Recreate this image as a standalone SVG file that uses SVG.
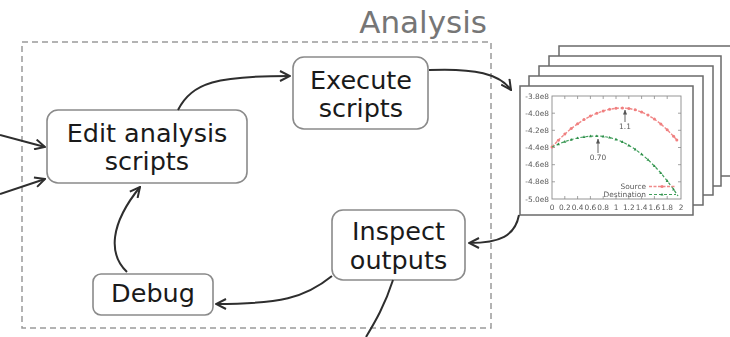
<svg xmlns="http://www.w3.org/2000/svg" width="730" height="337" viewBox="0 0 730 337">
  <style>
    .node rect { fill: #fff; stroke: #8a8a8a; stroke-width: 1.6; }
    .node text { font-family: "DejaVu Sans", Verdana, sans-serif; font-size: 25.5px; fill: #1a1a1a; text-anchor: middle; }
    .edge { fill: none; stroke: #2e2e2e; stroke-width: 2; marker-end: url(#arrow); }
    .frame { fill: #fff; stroke: #6a6a6a; stroke-width: 1.5; }
    .axis { fill: none; stroke: #8a8a8a; stroke-width: 0.9; }
    .tick { stroke: #8a8a8a; stroke-width: 0.8; }
    .lbl { font-family: "DejaVu Sans", Verdana, sans-serif; font-size: 7.4px; fill: #5a5a5a; }
    .src { fill: none; stroke: #f08a8a; stroke-width: 1.4; stroke-dasharray: 3 1.5; }
    .dst { fill: none; stroke: #3f9f5a; stroke-width: 1.2; stroke-dasharray: 3 2; }
  </style>
  <defs>
    <marker id="arrow" viewBox="0 0 12 12" refX="11" refY="6" markerWidth="12" markerHeight="12" markerUnits="userSpaceOnUse" orient="auto">
      <path d="M1,1 L11,6 L1,11" fill="none" stroke="#2e2e2e" stroke-width="2" stroke-linejoin="miter"/>
    </marker>
    <marker id="small" viewBox="0 0 6 6" refX="5.5" refY="3" markerWidth="5" markerHeight="5" markerUnits="userSpaceOnUse" orient="auto">
      <path d="M0,0.5 L6,3 L0,5.5 Z" fill="#555"/>
    </marker>
    <circle id="dotR" r="1.5" fill="#f07f7f"/>
    <path id="triG" d="M0,-1.6 L1.5,1.1 L-1.5,1.1 Z" fill="#2f8f4a"/>
    <filter id="soft" x="-5%" y="-5%" width="110%" height="110%">
      <feGaussianBlur stdDeviation="0.45"/>
    </filter>
  </defs>

  <!-- analysis boundary -->
  <rect x="22" y="42" width="469" height="286" fill="none" stroke="#9a9a9a" stroke-width="1.5" stroke-dasharray="6 4"/>
  <text x="487" y="33" font-family="DejaVu Sans, Verdana, sans-serif" font-size="31" fill="#767676" text-anchor="end">Analysis</text>

  <!-- stack of output plots -->
  <g id="outputs">
    <rect class="frame" x="559" y="46" width="180" height="130"/>
    <rect class="frame" x="549" y="56" width="172" height="130"/>
    <rect class="frame" x="539" y="66" width="174" height="129"/>
    <rect class="frame" x="529" y="76" width="174" height="129"/>
    <rect class="frame" x="520" y="86" width="173" height="129"/>
    <g filter="url(#soft)">
      <rect class="axis" x="552" y="96" width="129" height="103"/>
      <!-- ticks -->
      <g class="tick">
        <path d="M564.8,96v3M577.6,96v3M590.4,96v3M603.2,96v3M616,96v3M628.8,96v3M641.6,96v3M654.4,96v3M667.2,96v3
                 M564.8,199v-3M577.6,199v-3M590.4,199v-3M603.2,199v-3M616,199v-3M628.8,199v-3M641.6,199v-3M654.4,199v-3M667.2,199v-3
                 M552,113.2h3M552,130.3h3M552,147.5h3M552,164.7h3M552,181.8h3
                 M681,113.2h-3M681,130.3h-3M681,147.5h-3M681,164.7h-3M681,181.8h-3"/>
      </g>
      <!-- y labels -->
      <g class="lbl" text-anchor="end">
        <text x="549" y="98.5">-3.8e8</text>
        <text x="549" y="115.7">-4.0e8</text>
        <text x="549" y="132.8">-4.2e8</text>
        <text x="549" y="150">-4.4e8</text>
        <text x="549" y="167.2">-4.6e8</text>
        <text x="549" y="184.3">-4.8e8</text>
        <text x="549" y="201.5">-5.0e8</text>
      </g>
      <!-- x labels -->
      <g class="lbl" text-anchor="middle">
        <text x="552" y="210">0</text>
        <text x="564.8" y="210">0.2</text>
        <text x="577.6" y="210">0.4</text>
        <text x="590.4" y="210">0.6</text>
        <text x="603.2" y="210">0.8</text>
        <text x="616" y="210">1</text>
        <text x="628.8" y="210">1.2</text>
        <text x="641.6" y="210">1.4</text>
        <text x="654.4" y="210">1.6</text>
        <text x="667.2" y="210">1.8</text>
        <text x="681" y="210">2</text>
      </g>
      <!-- source curve -->
      <path class="src" d="M552,147 L558.4,140.2 L564.8,134.1 L571.2,128.6 L577.6,123.8 L584,119.6 L590.4,116.1 L596.8,113.2 L603.2,110.9 L609.6,109.3 L616,108.3 L622.4,108 L628.8,108.4 L635.2,109.8 L641.6,112 L648,115.1 L654.4,119.1 L660.8,123.9 L667.2,129.7 L673.6,136.3 L676.8,140"/>
      <g>
        <use href="#dotR" x="552" y="147"/><use href="#dotR" x="558.4" y="140.2"/><use href="#dotR" x="564.8" y="134.1"/>
        <use href="#dotR" x="571.2" y="128.6"/><use href="#dotR" x="577.6" y="123.8"/><use href="#dotR" x="584" y="119.6"/>
        <use href="#dotR" x="590.4" y="116.1"/><use href="#dotR" x="596.8" y="113.2"/><use href="#dotR" x="603.2" y="110.9"/>
        <use href="#dotR" x="609.6" y="109.3"/><use href="#dotR" x="616" y="108.3"/><use href="#dotR" x="622.4" y="108"/>
        <use href="#dotR" x="628.8" y="108.4"/><use href="#dotR" x="635.2" y="109.8"/><use href="#dotR" x="641.6" y="112"/>
        <use href="#dotR" x="648" y="115.1"/><use href="#dotR" x="654.4" y="119.1"/><use href="#dotR" x="660.8" y="123.9"/>
        <use href="#dotR" x="667.2" y="129.7"/><use href="#dotR" x="673.6" y="136.3"/><use href="#dotR" x="676.8" y="140"/>
      </g>
      <!-- destination curve -->
      <path class="dst" d="M552,147 L558.4,144.1 L564.8,141.6 L571.2,139.6 L577.6,138 L584,136.9 L590.4,136.2 L596.8,136 L603.2,136.4 L609.6,137.5 L616,139.3 L622.4,141.9 L628.8,145.3 L635.2,149.3 L641.6,154.1 L648,159.7 L654.4,166 L660.8,173 L667.2,180.8 L673.6,189.3 L678,196"/>
      <g>
        <use href="#triG" x="558.4" y="144.1"/><use href="#triG" x="564.8" y="141.6"/><use href="#triG" x="571.2" y="139.6"/>
        <use href="#triG" x="577.6" y="138"/><use href="#triG" x="584" y="136.9"/><use href="#triG" x="590.4" y="136.2"/>
        <use href="#triG" x="596.8" y="136"/><use href="#triG" x="603.2" y="136.4"/><use href="#triG" x="609.6" y="137.5"/>
        <use href="#triG" x="616" y="139.3"/><use href="#triG" x="622.4" y="141.9"/><use href="#triG" x="628.8" y="145.3"/>
        <use href="#triG" x="635.2" y="149.3"/><use href="#triG" x="641.6" y="154.1"/><use href="#triG" x="648" y="159.7"/>
        <use href="#triG" x="654.4" y="166"/><use href="#triG" x="660.8" y="173"/><use href="#triG" x="667.2" y="180.8"/>
        <use href="#triG" x="673.6" y="189.3"/>
      </g>
      <!-- peak annotations -->
      <path d="M625,122 V110" stroke="#555" stroke-width="0.9" marker-end="url(#small)"/>
      <text class="lbl" x="625" y="129" text-anchor="middle">1.1</text>
      <path d="M598,153 V139" stroke="#555" stroke-width="0.9" marker-end="url(#small)"/>
      <text class="lbl" x="598" y="160" text-anchor="middle">0.70</text>
      <!-- legend -->
      <text class="lbl" x="646" y="189" text-anchor="end">Source</text>
      <path class="src" d="M649,186.5 H676"/>
      <use href="#dotR" x="662" y="186.5"/>
      <text class="lbl" x="646" y="197" text-anchor="end">Destination</text>
      <path class="dst" d="M649,194.5 H676"/>
      <use href="#triG" x="662" y="194.5"/>
    </g>
  </g>

  <!-- process steps -->
  <g id="edit" class="node">
    <rect x="47" y="110" width="200" height="73" rx="11"/>
    <text x="147" y="142">Edit analysis</text>
    <text x="147" y="170">scripts</text>
  </g>
  <g id="execute" class="node">
    <rect x="293" y="57" width="135" height="72" rx="11"/>
    <text x="361" y="89">Execute</text>
    <text x="361" y="117">scripts</text>
  </g>
  <g id="inspect" class="node">
    <rect x="332" y="210" width="133" height="70" rx="11"/>
    <text x="398.5" y="240">Inspect</text>
    <text x="398.5" y="269">outputs</text>
  </g>
  <g id="debug" class="node">
    <rect x="93" y="274" width="120" height="41" rx="8"/>
    <text x="153" y="302">Debug</text>
  </g>

  <!-- connectors -->
  <g id="connectors">
    <path class="edge" d="M0,135 L45,147"/>
    <path class="edge" d="M0,194 L45,179"/>
    <path class="edge" d="M178,110 C192,82 218,76 290,76"/>
    <path class="edge" d="M429,70 C475,68 500,74 511,90"/>
    <path class="edge" d="M519,215 C515,236 500,243 469,243"/>
    <path class="edge" d="M332,276 C305,298 280,304 216,304"/>
    <path class="edge" d="M127,272 C108,254 110,224 140,187"/>
    <path d="M393,280 C385,305 375,322 366,337" fill="none" stroke="#2e2e2e" stroke-width="2"/>
  </g>
</svg>
